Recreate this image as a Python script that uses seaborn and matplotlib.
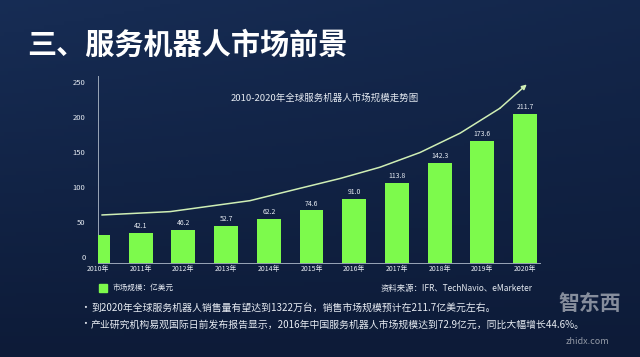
import numpy as np
import matplotlib
matplotlib.use('Agg')
import matplotlib.pyplot as plt
import matplotlib.transforms as mtransforms
import seaborn as sns

# --- data ---
years = ['2010年', '2011年', '2012年', '2013年', '2014年', '2015年',
         '2016年', '2017年', '2018年', '2019年', '2020年']
market_size = [39, 42.1, 46.2, 52.7, 62.2, 74.6, 91.0, 113.8, 142.3, 173.6, 211.7]
bar_labels = ['', '42.1', '46.2', '52.7', '62.2', '74.6', '91.0', '113.8', '142.3', '173.6', '211.7']
y_ticks = [0, 50, 100, 150, 200, 250]

# decorative trend arrow (category position, value)
trend_x = [0.09, 1.69, 3.56, 4.73, 5.67, 6.6, 7.54, 8.48, 9.41, 10.04]
trend_y = [68, 72.8, 88.4, 106, 120, 136, 157, 184.6, 220, 254]

main_title = '三、服务机器人市场前景'
chart_title = '2010-2020年全球服务机器人市场规模走势图'
legend_text = '市场规模：亿美元'
source_text = '资料来源：IFR、TechNavio、eMarketer'
bullets = [
    '到2020年全球服务机器人销售量有望达到1322万台，销售市场规模预计在211.7亿美元左右。',
    '产业研究机构易观国际日前发布报告显示，2016年中国服务机器人市场规模达到72.9亿元，同比大幅增长44.6%。',
]

BAR_GREEN = '#7dfa4c'
TEXT = '#e6ebf2'
CURVE = '#cfeeb5'

sns.set_theme(style='white')
plt.rcParams['font.family'] = ['Noto Sans CJK SC', 'DejaVu Sans']

fig = plt.figure(figsize=(6.4, 3.57), dpi=100)

# background gradient
bg = fig.add_axes([0, 0, 1, 1], zorder=-10)
gy, gx = np.mgrid[0:1:100j, 0:1:160j]
shade = 0.55 * (1 - gy) * (1 - 0.6 * gx) + 0.15 * gx * (1 - gy)
c_dark = np.array([0x0d, 0x1b, 0x38]) / 255
c_light = np.array([0x1f, 0x3b, 0x6c]) / 255
img = c_dark + (c_light - c_dark) * shade[..., None]
bg.imshow(img, aspect='auto', extent=[0, 1, 0, 1], origin='upper')
bg.set_axis_off()

ax = fig.add_axes([98 / 640, 1 - 262.7 / 357, 442 / 640, 186.7 / 357])
ax.set_facecolor('none')

sns.barplot(x=years, y=market_size, color=BAR_GREEN, saturation=1,
            width=0.56, linewidth=0, edgecolor='none', ax=ax, zorder=3)
ax.bar_label(ax.containers[0], labels=bar_labels, padding=2,
             fontsize=5, color=TEXT)

# trend curve with arrow head
ax.plot(trend_x[:-1], trend_y[:-1], color=CURVE, lw=1.1, zorder=4,
        solid_capstyle='round', solid_joinstyle='round')
ax.annotate('', xy=(trend_x[-1], trend_y[-1]), xytext=(trend_x[-2], trend_y[-2]),
            arrowprops=dict(arrowstyle='-|>', color=CURVE, lw=1.1,
                            mutation_scale=7, shrinkA=0, shrinkB=0), zorder=4)

ax.set_xlim(0, 10.35)
ax.set_ylim(0, 266)
ax.set_yticks(y_ticks)
ax.set_yticklabels([str(t) for t in y_ticks])
ax.set_xlabel('')
ax.set_ylabel('')
ax.tick_params(axis='y', length=0, pad=9, labelsize=5.5, labelcolor=TEXT)
ax.tick_params(axis='x', length=0, pad=1.5, labelsize=5, labelcolor=TEXT)
shift = mtransforms.ScaledTranslation(0, 4 / 72, fig.dpi_scale_trans)
for lab in ax.get_yticklabels():
    lab.set_transform(lab.get_transform() + shift)

for side in ['top', 'right']:
    ax.spines[side].set_visible(False)
for side in ['left', 'bottom']:
    ax.spines[side].set_color('#9aa6b8')
    ax.spines[side].set_linewidth(0.7)

# texts
fig.text(27 / 640, 1 - 45 / 357, main_title, fontsize=21, fontweight='bold',
         color='white', ha='left', va='center')
fig.text(325 / 640, 1 - 98 / 357, chart_title, fontsize=6.8, color=TEXT,
         ha='center', va='center')

fig.patches.append(plt.Rectangle((99 / 640, 1 - 292 / 357), 8 / 640, 8 / 357,
                                 transform=fig.transFigure, color=BAR_GREEN))
fig.text(113 / 640, 1 - 288 / 357, legend_text, fontsize=5.5, color=TEXT,
         ha='left', va='center')
fig.text(533 / 640, 1 - 288 / 357, source_text, fontsize=6, color=TEXT,
         ha='right', va='center')

for i, line in enumerate(bullets):
    yy = 1 - (308 + 16.5 * i) / 357
    fig.text(80 / 640, yy, '•', fontsize=7, color=TEXT, ha='left', va='center')
    fig.text(91 / 640, yy, line, fontsize=7.1, color=TEXT, ha='left', va='center')

# watermark
fig.text(590 / 640, 1 - 303 / 357, '智东西', fontsize=15, fontweight='bold',
         color='white', alpha=0.5, ha='center', va='center')
fig.text(588 / 640, 1 - 341 / 357, 'zhidx.com', fontsize=6.5, color='white',
         alpha=0.55, ha='center', va='center')

fig.savefig('out.png', dpi=100, facecolor=fig.get_facecolor())
